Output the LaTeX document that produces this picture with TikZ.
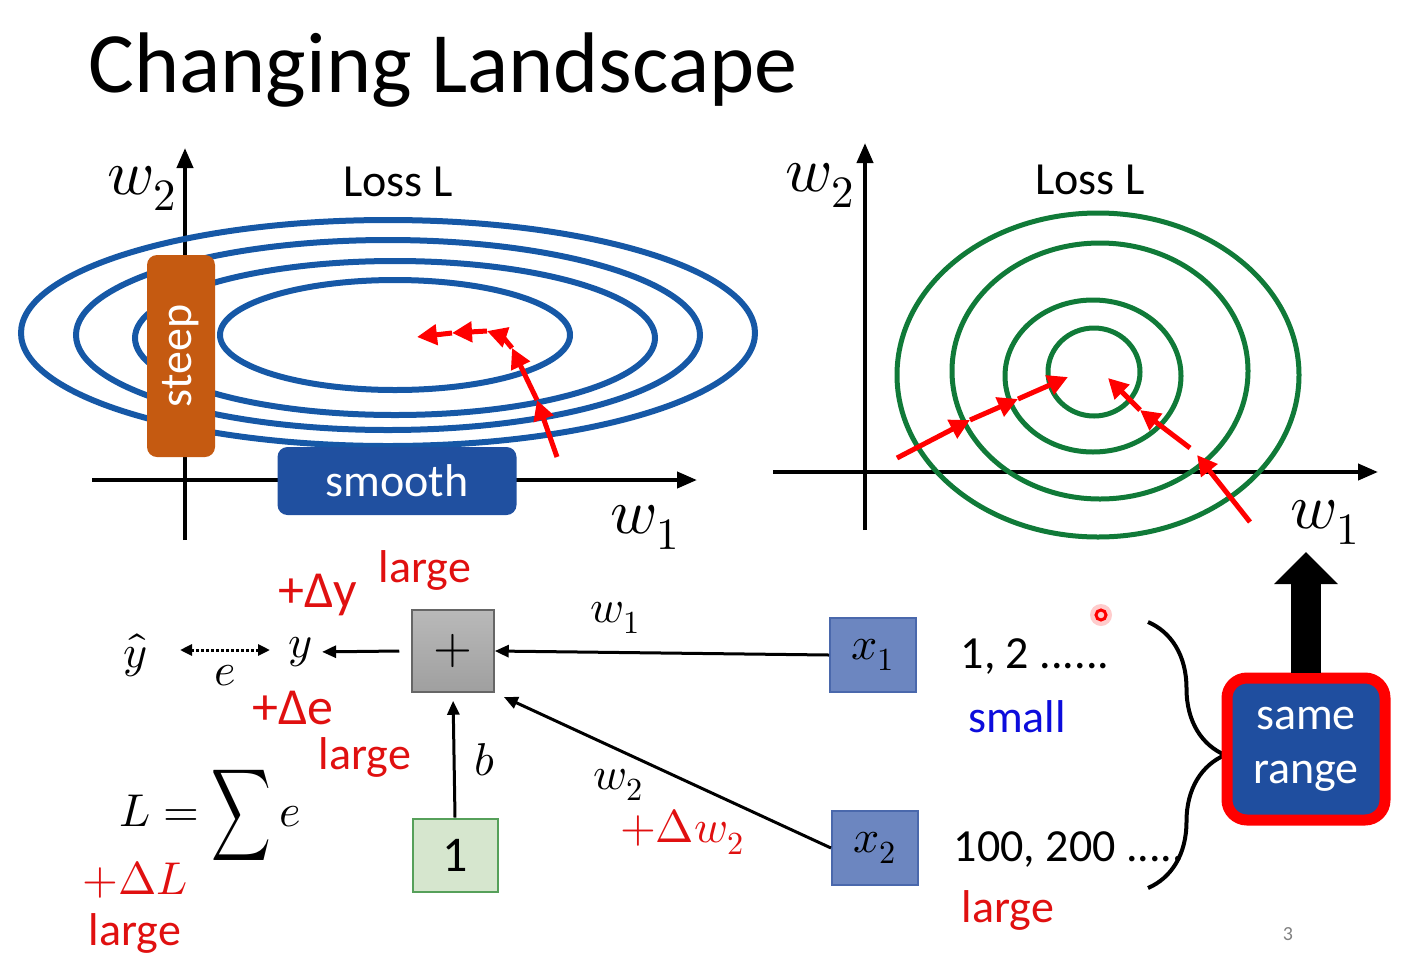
\documentclass[tikz,border=0pt]{standalone}
\usepackage{fontspec}
\usepackage{unicode-math}
\setmainfont{Carlito}
\setmathfont{Latin Modern Math}
\usetikzlibrary{arrows.meta,decorations.pathreplacing,positioning}

\definecolor{lossblue}{RGB}{22,88,166}
\definecolor{lossgreen}{RGB}{16,122,56}
\definecolor{steeporange}{RGB}{197,90,17}
\definecolor{smoothblue}{RGB}{32,80,160}
\definecolor{labelred}{RGB}{224,16,16}
\definecolor{smallblue}{RGB}{12,12,220}
\definecolor{inputblue}{RGB}{108,134,192}
\definecolor{inputedge}{RGB}{74,104,172}
\definecolor{onegreen}{RGB}{214,230,206}
\definecolor{oneedge}{RGB}{86,160,90}
\definecolor{rangeblue}{RGB}{31,78,159}

\tikzset{
  axisline/.style={line width=4pt,-{Triangle[length=20pt,width=16pt]}},
  contour/.style={line width=6pt},
  gdstep/.style={line width=5pt,red,-{Triangle[length=20pt,width=20pt]}},
  flow/.style={line width=3pt,->},
  axlbl/.style={font=\fontsize{64}{70}\selectfont,inner sep=0pt},
  lbl/.style={font=\fontsize{46}{50}\selectfont,inner sep=0pt},
  redlbl/.style={lbl,text=labelred},
  tagbox/.style={rounded corners=10pt,text=white,font=\fontsize{46}{50}\selectfont,inner sep=0pt},
  inbox/.style={draw=inputedge,fill=inputblue,line width=2pt,minimum width=86pt,minimum height=74pt,font=\fontsize{46}{50}\selectfont},
}

\begin{document}
\begin{tikzpicture}[x=1pt,y=-1pt,>={Triangle[length=14pt,width=12pt]}]
\useasboundingbox (0,0) rectangle (1408,962);

\node[anchor=base west,font=\fontsize{86}{90}\selectfont] (title) at (85,92) {Changing Landscape};

% elongated loss surface
\draw[axisline] (92,480) -- (697,480);
\draw[axisline] (185,540) -- (185,148);
\draw[lossblue,contour] (388,333) ellipse [x radius=367pt,y radius=113pt];
\draw[lossblue,contour] (388,335) ellipse [x radius=312pt,y radius=95pt];
\draw[lossblue,contour] (395,338) ellipse [x radius=260pt,y radius=77pt];
\draw[lossblue,contour] (395,335) ellipse [x radius=175pt,y radius=55pt];
\node[axlbl] (lw2) at (142,188) {$w_2$};
\node[axlbl] (lw1) at (645,527) {$w_1$};
\node[lbl] (lloss) at (398,182) {Loss L};
\node[tagbox,fill=steeporange,rotate=90,minimum width=202pt,minimum height=68pt] (steep) at (181,356) {steep};
\node[tagbox,fill=smoothblue,minimum width=239pt,minimum height=68pt] (smooth) at (397,481) {smooth};
\draw[gdstep] (557,457) -- (537,400);
\draw[gdstep] (537,400) -- (512,348);
\draw[gdstep] (512,348) .. controls (502,336) .. (487,331);
\draw[gdstep] (487,331) -- (452,333);
\draw[gdstep] (452,333) -- (417,337);

% round loss surface
\draw[axisline] (773,472) -- (1378,472);
\draw[axisline] (865,530) -- (865,143);
\draw[lossgreen,contour,line width=5pt] (1098,375) ellipse [x radius=201pt,y radius=162pt];
\draw[lossgreen,contour,line width=5pt] (1100,371) ellipse [x radius=148pt,y radius=128pt];
\draw[lossgreen,contour,line width=5pt] (1093,376) ellipse [x radius=88pt,y radius=76pt];
\draw[lossgreen,contour,line width=5pt] (1094,372) ellipse [x radius=46pt,y radius=44pt];
\node[axlbl] (rw2) at (820,185) {$w_2$};
\node[axlbl] (rw1) at (1325,522) {$w_1$};
\node[lbl] (rloss) at (1090,180) {Loss L};
\draw[gdstep] (897,458) -- (970,420);
\draw[gdstep] (970,420) -- (1018,399);
\draw[gdstep] (1018,399) -- (1068,377);
\draw[gdstep] (1250,522) -- (1197,455);
\draw[gdstep] (1190,448) -- (1140,410);
\draw[gdstep] (1140,410) -- (1108,378);

% network
\node[lbl] (yhat) at (135,655) {$\hat{y}$};
\node[lbl] (y) at (300,652) {$y$};
\node[lbl] (e) at (225,676) {$e$};
\draw[line width=3pt,dotted,{Triangle[length=12pt,width=11pt]}-{Triangle[length=12pt,width=11pt]}] (yhat) ++(45,-5) -- ++(90,0);
\node[draw=gray!80!black,line width=1.5pt,top color=gray!55,bottom color=gray!75,minimum width=82pt,minimum height=82pt,font=\fontsize{50}{54}\selectfont] (plus) at (453,651) {$+$};
\node[inbox] (x1) at (873,655) {$x_1$};
\node[inbox] (x2) at (875,848) {$x_2$};
\node[draw=oneedge,fill=onegreen,line width=2pt,minimum width=85pt,minimum height=73pt,font=\fontsize{50}{54}\selectfont] (one) at (455,855) {1};
\draw[flow,shorten >=10pt] (plus.west) ++(-12,0) -- (y.east);
\draw[flow] (x1.west) -- (plus.east);
\draw[flow,shorten >=10pt] (x2.west) -- (plus.south east);
\draw[flow,shorten >=8pt] (one.north) -- (plus.south);
\node[lbl] (w1) at (615,618) {$w_1$};
\node[lbl] (w2) at (618,785) {$w_2$};
\node[lbl] (b) at (485,760) {$b$};
\node[redlbl] (dw2) at (682,832) {$+\Delta w_2$};
\node[redlbl,font=\fontsize{52}{56}\selectfont] (dy) at (318,595) {+Δy};
\node[redlbl] (dylarge) at (425,570) {large};
\node[redlbl,font=\fontsize{52}{56}\selectfont] (de) at (293,708) {+Δe};
\node[redlbl] (delarge) at (365,757) {large};
\node[lbl] (loss) at (210,815) {$L=\mathop{\vcenter{\hbox{\scalebox{0.9}[1.4]{$\displaystyle\sum$}}}}e$};
\node[redlbl] (dl) at (135,880) {$+\Delta L$};
\node[redlbl] (dllarge) at (135,933) {large};

% feature ranges
\node[lbl] (v1) at (1035,657) {1, 2 ......};
\node[lbl,text=smallblue] (v1small) at (1017,717) {small};
\node[lbl] (v2) at (1069,850) {100, 200 .....};
\node[redlbl] (v2large) at (1008,910) {large};
\draw[line width=4pt,decorate,decoration={brace,amplitude=77pt}] (1148,622) -- (1148,888);
\node[tagbox,draw=red,line width=11pt,fill=rangeblue,rounded corners=20pt,minimum width=158pt,minimum height=142pt,align=center] (range) at (1306,749) {same\\[4pt]range};
\draw[line width=30pt,-{Triangle[length=32pt,width=62pt]}] (range.north) -- (1306,552);
\fill[red!20] (1101,615) circle (11pt);
\draw[red,line width=3pt] (1101,615) circle (5pt);
\node[font=\fontsize{20}{22}\selectfont,text=gray] (page) at (1288,934) {3};
\end{tikzpicture}
\end{document}
